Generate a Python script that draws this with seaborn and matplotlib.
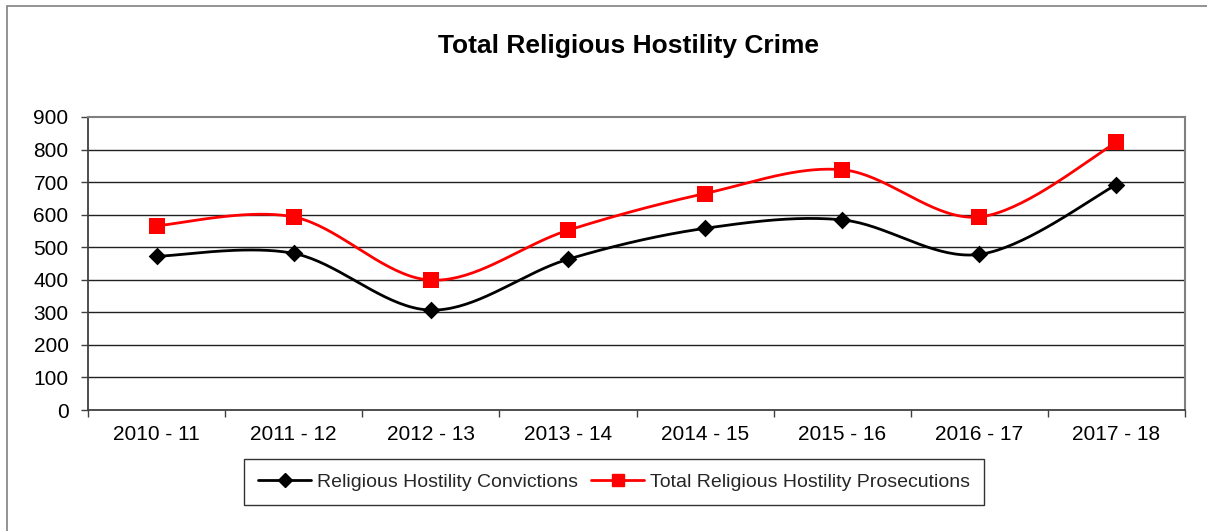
import numpy as np
import pandas as pd
import matplotlib
matplotlib.use("Agg")
import matplotlib.pyplot as plt
from matplotlib.lines import Line2D
from matplotlib.patches import Rectangle
import seaborn as sns

years = ["2010 - 11", "2011 - 12", "2012 - 13", "2013 - 14",
         "2014 - 15", "2015 - 16", "2016 - 17", "2017 - 18"]
convictions = [472, 481, 307, 463, 558, 584, 478, 692]
prosecutions = [566, 593, 399, 552, 665, 738, 593, 822]
yticks = [0, 100, 200, 300, 400, 500, 600, 700, 800, 900]

sns.set_theme(style="white")
plt.rcParams["font.family"] = ["Liberation Sans", "DejaVu Sans"]


def smooth(values, steps=40):
    """Bezier smoothing with control points at 1/6 of the neighbour span."""
    p = np.column_stack([np.arange(len(values), dtype=float),
                         np.asarray(values, dtype=float)])
    n = len(p)
    out = []
    t = np.linspace(0, 1, steps)[:, None]
    for i in range(n - 1):
        p0, p3 = p[i], p[i + 1]
        prev = p[i - 1] if i > 0 else p[i]
        nxt = p[i + 2] if i + 2 < n else p[i + 1]
        c1 = p0 + (p3 - prev) / 6.0
        c2 = p3 - (nxt - p0) / 6.0
        seg = ((1 - t) ** 3) * p0 + 3 * ((1 - t) ** 2) * t * c1 \
            + 3 * (1 - t) * t ** 2 * c2 + t ** 3 * p3
        out.append(seg if i == 0 else seg[1:])
    pts = np.vstack(out)
    return pts[:, 0], pts[:, 1]


fig = plt.figure(figsize=(12.07, 5.31), dpi=100)
fig.patch.set_facecolor("white")
fig.add_artist(Rectangle((7 / 1207, -0.05), 1.1, 1 - 6 / 531 + 0.05,
                         transform=fig.transFigure, fill=False,
                         edgecolor="#808080", linewidth=1.2))

ax = fig.add_axes([88 / 1207, 1 - 410 / 531, (1185 - 88) / 1207, (410 - 117) / 531])
ax.set_facecolor("white")

series = [
    ("Religious Hostility Convictions", convictions, "black", "D", 9),
    ("Total Religious Hostility Prosecutions", prosecutions, "#ff0000", "s", 11),
]

for name, vals, color, marker, msize in series:
    cx, cy = smooth(vals)
    sns.lineplot(x=cx, y=cy, ax=ax, color=color, linewidth=2.0,
                 sort=False, estimator=None, legend=False, zorder=3)
    df = pd.DataFrame({"x": np.arange(len(years)), "y": vals})
    sns.scatterplot(data=df, x="x", y="y", ax=ax, color=color, marker=marker,
                    s=msize ** 2, edgecolor=color, linewidth=0, legend=False,
                    zorder=4)

ax.set_xlim(-0.5, len(years) - 0.5)
ax.set_ylim(0, 900)
ax.set_yticks(yticks)
ax.set_yticklabels([str(v) for v in yticks], fontsize=15)
ax.set_xticks(np.arange(len(years)))
ax.set_xticklabels(years, fontsize=15)
ax.set_xticks(np.arange(len(years) + 1) - 0.5, minor=True)
ax.tick_params(axis="x", which="major", length=0, pad=11, colors="black")
ax.tick_params(axis="x", which="minor", length=5, width=1, color="#404040",
               direction="out", bottom=True)
ax.tick_params(axis="y", which="major", length=5, width=1, color="#404040",
               direction="out", left=True, pad=9, labelcolor="black")
ax.set_xlabel("")
ax.set_ylabel("")

for v in yticks[1:-1]:
    ax.axhline(v, color="#202020", linewidth=1.0, zorder=1)

for side in ["top", "right"]:
    ax.spines[side].set_visible(True)
    ax.spines[side].set_color("#808080")
    ax.spines[side].set_linewidth(1.5)
for side in ["left", "bottom"]:
    ax.spines[side].set_visible(True)
    ax.spines[side].set_color("#404040")
    ax.spines[side].set_linewidth(1.3)

fig.text(628 / 1207, 1 - 46 / 531, "Total Religious Hostility Crime",
         ha="center", va="center", fontsize=19, fontweight="bold", color="black")

handles = [
    Line2D([0], [0], color="black", linewidth=2, marker="D", markersize=7,
           markerfacecolor="black", markeredgecolor="black"),
    Line2D([0], [0], color="#ff0000", linewidth=2, marker="s", markersize=9,
           markerfacecolor="#ff0000", markeredgecolor="#ff0000"),
]
leg = fig.legend(handles, [s[0] for s in series], loc="center",
                 bbox_to_anchor=(614 / 1207, 1 - 482 / 531), ncol=2,
                 fontsize=14, frameon=True, fancybox=False, handlelength=2.7,
                 handletextpad=0.3, columnspacing=0.7, borderpad=0.75,
                 borderaxespad=0.0)
leg.get_frame().set_edgecolor("black")
leg.get_frame().set_linewidth(1.0)

fig.savefig("out.png", dpi=100, facecolor="white")
